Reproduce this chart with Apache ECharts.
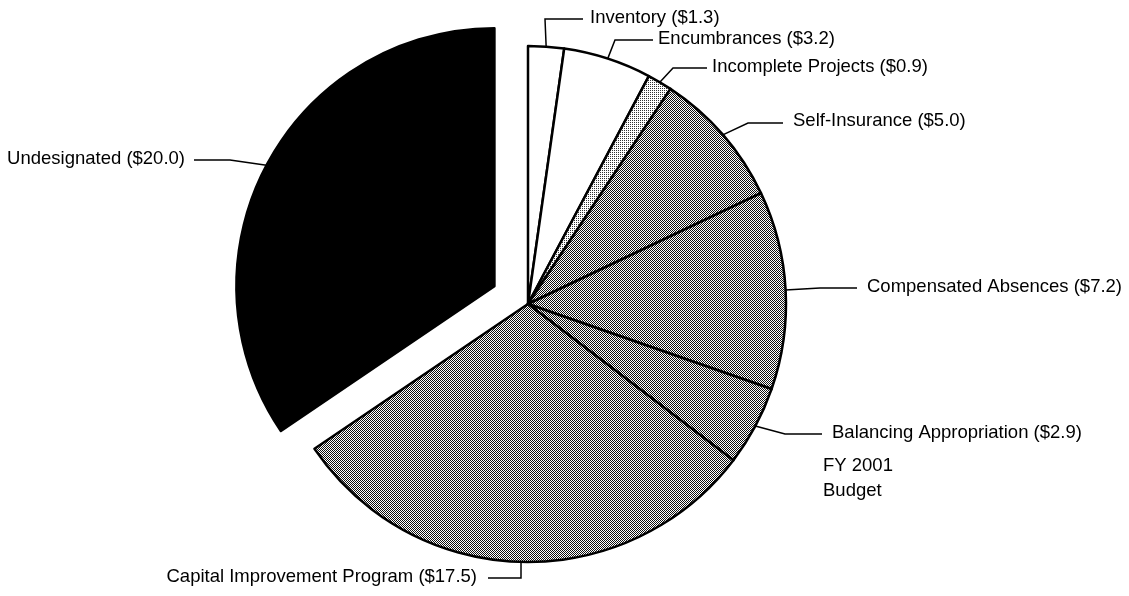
<!DOCTYPE html>
<html>
<head>
<meta charset="utf-8">
<script src="https://cdn.jsdelivr.net/npm/echarts@6/dist/echarts.min.js"></script>
<style>
  html, body { margin: 0; padding: 0; background: #fff; }
  #chart { width: 1129px; height: 596px; }
</style>
</head>
<body>
<div id="chart"></div>
<script>
  // fund balance by designation, $ millions
  var names = ['Inventory', 'Encumbrances', 'Incomplete Projects', 'Self-Insurance',
    'Compensated Absences', 'Balancing Appropriation', 'Capital Improvement Program', 'Undesignated'];
  var values = [1.3, 3.2, 0.9, 5.0, 7.2, 2.9, 17.5, 20.0];
  var fills = ['white', 'white', 'light', 'gray', 'gray', 'gray', 'gray', 'black'];
  var explodedIndex = 7;
  var captionLines = ['FY 2001', 'Budget'];

  // where each label sits and how its leader line bends (x, y of text; bend; end of line)
  var labelPos = [
    {x: 590, y: 18, align: 'left', bend: [545, 19], end: [583, 19]},
    {x: 658, y: 39, align: 'left', bend: [615, 40], end: [653, 40]},
    {x: 712, y: 67, align: 'left', bend: [673, 68], end: [707, 68]},
    {x: 793, y: 121, align: 'left', bend: [748, 123], end: [783, 123]},
    {x: 867, y: 287, align: 'left', bend: [820, 288], end: [857, 288]},
    {x: 832, y: 433, align: 'left', bend: [785, 434], end: [822, 434]},
    {x: 477, y: 577, align: 'right', bend: [521, 578], end: [488, 578]},
    {x: 185, y: 159, align: 'right', bend: [230, 160], end: [194, 160]}
  ];

  var pieCenter = [528, 304];
  var pieRadius = 258;
  var explodeBy = 38;

  // ordered dither so the gray slices look like the printed halftone
  function dither(level, dark) {
    var bayer = [0, 8, 2, 10, 12, 4, 14, 6, 3, 11, 1, 9, 15, 7, 13, 5];
    var c = document.createElement('canvas');
    c.width = 4;
    c.height = 4;
    var ctx = c.getContext('2d');
    ctx.fillStyle = '#fff';
    ctx.fillRect(0, 0, 4, 4);
    ctx.fillStyle = dark;
    for (var i = 0; i < 16; i++) {
      if (bayer[i] < level) ctx.fillRect(i % 4, Math.floor(i / 4), 1, 1);
    }
    return {image: c, repeat: 'repeat'};
  }

  var fillStyle = {
    white: '#fff',
    light: dither(4, '#333'),
    gray: dither(8, '#111'),
    black: '#000'
  };

  // pulled-out slice gets its own pie, shifted along its middle angle
  var total = values.reduce(function (a, b) { return a + b; }, 0);
  var before = 0;
  for (var k = 0; k < explodedIndex; k++) before += values[k];
  var midAngle = (before + values[explodedIndex] / 2) / total * Math.PI * 2;
  var explodedCenter = [
    pieCenter[0] + explodeBy * Math.sin(midAngle),
    pieCenter[1] - explodeBy * Math.cos(midAngle)
  ];

  function buildData(showExploded) {
    return names.map(function (n, i) {
      var visible = (i === explodedIndex) === showExploded;
      if (!visible) {
        return {
          name: n, value: values[i],
          itemStyle: {color: 'transparent', borderWidth: 0},
          label: {show: false}, labelLine: {show: false}
        };
      }
      return {name: n, value: values[i], itemStyle: {color: fillStyle[fills[i]]}};
    });
  }

  function baseSeries(center, showExploded) {
    return {
      type: 'pie',
      center: center,
      radius: pieRadius,
      startAngle: 90,
      clockwise: true,
      avoidLabelOverlap: false,
      silent: true,
      itemStyle: {borderColor: '#000', borderWidth: 2.5},
      emphasis: {disabled: true},
      label: {
        show: true,
        position: 'outside',
        color: '#000',
        fontFamily: 'Liberation Sans, Arial, sans-serif',
        fontSize: 18.5,
        formatter: function (p) {
          return p.name + ' ($' + p.value.toFixed(1) + ')';
        }
      },
      labelLine: {show: true, lineStyle: {color: '#000', width: 1.5}},
      labelLayout: function (params) {
        var pos = labelPos[params.dataIndex];
        var anchor = params.labelLinePoints ? params.labelLinePoints[0] : pos.bend;
        return {
          x: pos.x,
          y: pos.y,
          align: pos.align,
          verticalAlign: 'middle',
          labelLinePoints: [anchor, pos.bend, pos.end]
        };
      },
      data: buildData(showExploded)
    };
  }

  var chart = echarts.init(document.getElementById('chart'));
  chart.setOption({
    animation: false,
    backgroundColor: '#fff',
    title: {
      text: captionLines.join('\n'),
      left: 818,
      top: 448,
      textStyle: {
        color: '#000',
        fontFamily: 'Liberation Sans, Arial, sans-serif',
        fontSize: 18.5,
        fontWeight: 'normal',
        lineHeight: 25
      }
    },
    series: [
      baseSeries(pieCenter, false),
      baseSeries(explodedCenter, true)
    ]
  });
</script>
</body>
</html>
